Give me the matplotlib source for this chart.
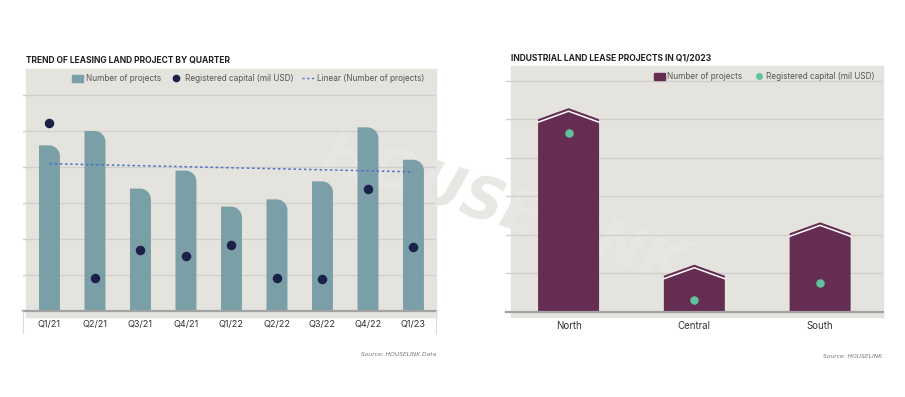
#!/usr/bin/env python3
"""Leasing land projects: quarterly trend + regional split for Q1/2023."""
import numpy as np
import matplotlib

matplotlib.use("Agg")
import matplotlib.pyplot as plt
from matplotlib.lines import Line2D
from matplotlib.patches import Patch, PathPatch, Rectangle
from matplotlib.path import Path

plt.rcParams["font.family"] = ["Inter", "DejaVu Sans"]

# ---- data -------------------------------------------------------------
quarters = ["Q1/21", "Q2/21", "Q3/21", "Q4/21", "Q1/22", "Q2/22", "Q3/22", "Q4/22", "Q1/23"]
projects_q = [46, 50, 34, 39, 29, 31, 36, 51, 42]
capital_q = [2610, 460, 850, 760, 920, 460, 440, 1690, 890]

regions = ["North", "Central", "South"]
projects_r = [25, 4.7, 10.2]
capital_r = [464, 31, 75]

# ---- style ------------------------------------------------------------
BG = "#e5e3de"
GRID = "#d0cfcb"
BASE = "#a3a3a3"
TEAL = "#7b9fa7"
NAVY = "#1b2048"
TREND = "#4a72c6"
PLUM = "#652d52"
MINT = "#62c19a"
TXT = "#333333"
LEG = "#555555"

W, H = 905, 397
fig = plt.figure(figsize=(W / 100, H / 100), dpi=100)


def fx(px):
    return px / W


def fy(py):
    return 1 - py / H


def axes_px(left, top, right, bottom):
    return fig.add_axes([fx(left), fy(bottom), (right - left) / W, (bottom - top) / H])


def background(left, top, right, bottom):
    fig.add_artist(Rectangle((fx(left), fy(bottom)), (right - left) / W, (bottom - top) / H,
                             transform=fig.transFigure, color=BG, zorder=-5))


def style_axes(ax, ymax, step):
    ax.set_facecolor("none")
    ax.set_ylim(0, ymax)
    ax.set_yticks(np.arange(step, ymax, step))
    ax.yaxis.grid(True, color=GRID, lw=1)
    ax.set_axisbelow(True)
    ax.tick_params(axis="y", length=0, labelleft=False)
    ax.tick_params(axis="x", length=0, pad=6.5, labelsize=6.6, labelcolor=TXT)
    for s in ("top", "left", "right"):
        ax.spines[s].set_visible(False)
    ax.spines["bottom"].set_color(BASE)
    ax.spines["bottom"].set_linewidth(1.6)


def px_per_unit(ax):
    p = ax.transData.transform([(0, 0), (1, 1)])
    return p[1, 0] - p[0, 0], p[1, 1] - p[0, 1]


def twin(ax, ymax):
    a2 = ax.twinx()
    a2.set_ylim(0, ymax)
    a2.set_facecolor("none")
    a2.set_yticks([])
    for s in a2.spines.values():
        s.set_visible(False)
    return a2


# faint watermark behind both panels
fig.text(fx(505), fy(210), "HOUSELINK", fontsize=42, fontweight="bold", style="italic",
         family="DejaVu Sans", rotation=-18, color="#e9e7e3",
         ha="center", va="center", zorder=-4)

# ---- left: trend by quarter -------------------------------------------
background(26, 69, 436, 317)
ax = axes_px(23, 69, 436, 311)
ax.set_xlim(-0.582, 8.495)
style_axes(ax, 67.2, 10)
x = np.arange(len(quarters))
ax.set_xticks(x, quarters)

ux, uy = px_per_unit(ax)
bw = 0.46
rx, ry = 11 / ux, 11 / uy
t = np.linspace(np.pi / 2, 0, 12)
for xi, h in zip(x, projects_q):
    x0, x1 = xi - bw / 2, xi + bw / 2
    arc = np.column_stack([x1 - rx + rx * np.cos(t), h - ry + ry * np.sin(t)])
    verts = np.vstack([[x0, 0], [x0, h], arc, [x1, 0], [x0, 0]])
    ax.add_patch(PathPatch(Path(verts, closed=True), facecolor=TEAL, edgecolor="none", zorder=2))

coef = np.polyfit(x, projects_q, 1)
ax.plot([x[0], x[-1]], np.polyval(coef, [x[0], x[-1]]), color=TREND, lw=1.1,
        dashes=(1.6, 1.8), zorder=3)

ax2 = twin(ax, 3361)
ax2.scatter(x, capital_q, s=34, color=NAVY, zorder=4)

handles = [Patch(color=TEAL), Line2D([], [], marker="o", ls="", color=NAVY, ms=4.5),
           Line2D([], [], color=TREND, lw=1, dashes=(1.6, 1.8))]
ax2.legend(handles, ["Number of projects", "Registered capital (mil USD)",
                     "Linear (Number of projects)"],
           ncol=3, loc="center right", bbox_to_anchor=(0.971, 0.959), frameon=False,
           fontsize=5.9, labelcolor=LEG, handlelength=1.4, handleheight=0.9,
           handletextpad=0.35, columnspacing=1.1, borderpad=0, borderaxespad=0)

for xp in (23, 436):
    fig.add_artist(Line2D([fx(xp), fx(xp)], [fy(311), fy(333)], transform=fig.transFigure,
                          color="#dadada", lw=0.8))

fig.text(fx(26), fy(60), "TREND OF LEASING LAND PROJECT BY QUARTER", fontsize=6.1,
         fontweight="bold", color="#222222", va="center")
fig.text(fx(436), fy(355), "Source: HOUSELINK Data", fontsize=4.3, style="italic",
         family="DejaVu Sans", color="#777777", ha="right", va="center")

# ---- right: regions in Q1/2023 ----------------------------------------
background(511, 66, 883, 317)
bx = axes_px(505.7, 66, 883, 312)
bx.set_xlim(-0.5, 2.5)
style_axes(bx, 31.9, 5)
xr = np.arange(len(regions))
bx.set_xticks(xr, regions)
bx.tick_params(axis="x", labelsize=7, pad=6.5)

ux, uy = px_per_unit(bx)
bw = 0.485
rise, off = 11 / uy, 3 / uy
for xi, h in zip(xr, projects_r):
    x0, x1 = xi - bw / 2, xi + bw / 2
    verts = [[x0, 0], [x0, h], [xi, h + rise], [x1, h], [x1, 0], [x0, 0]]
    bx.add_patch(PathPatch(Path(verts, closed=True), facecolor=PLUM, edgecolor="none", zorder=2))
    bx.plot([x0, xi, x1], [h - off, h + rise - off, h - off], color="white", lw=1.1, zorder=3)

bx2 = twin(bx, 638)
bx2.scatter(xr, capital_r, s=26, color=MINT, zorder=4)

handles = [Patch(color=PLUM), Line2D([], [], marker="o", ls="", color=MINT, ms=4)]
bx2.legend(handles, ["Number of projects", "Registered capital (mil USD)"],
           ncol=2, loc="center right", bbox_to_anchor=(0.979, 0.9565), frameon=False,
           fontsize=5.9, labelcolor=LEG, handlelength=1.4, handleheight=0.9,
           handletextpad=0.2, columnspacing=1.4, borderpad=0, borderaxespad=0)

fig.text(fx(511), fy(59), "INDUSTRIAL LAND LEASE PROJECTS IN Q1/2023", fontsize=6.1,
         fontweight="bold", color="#222222", va="center")
fig.text(fx(882), fy(357), "Source: HOUSELINK", fontsize=4.3, style="italic",
         family="DejaVu Sans", color="#777777", ha="right", va="center")

fig.savefig("out.png", dpi=100)
